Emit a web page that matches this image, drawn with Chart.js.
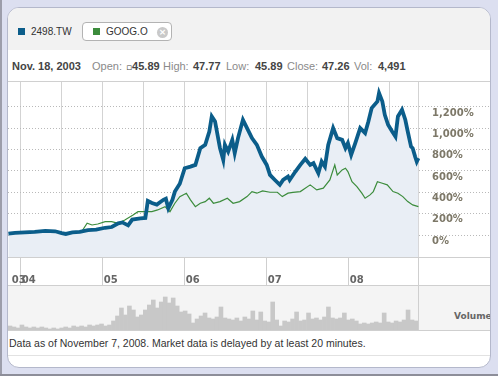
<!DOCTYPE html>
<html>
<head>
<meta charset="utf-8">
<script src="https://cdn.jsdelivr.net/npm/chart.js@4.4.1/dist/chart.umd.min.js"></script>
<style>
  html, body { margin: 0; padding: 0; }
  body { width: 498px; height: 376px; background: #dcdff0; position: relative; overflow: hidden;
         font-family: "Liberation Sans", Arial, sans-serif; }
  .abs { position: absolute; }
  #frameL { left: 0; top: 0; width: 2px; height: 376px; background: #9c9daa; }
  #frameB { left: 0; top: 374px; width: 498px; height: 2px; background: #8d8e99; }
  #panel { left: 7px; top: 7px; width: 482px; height: 359px; background: #fff;
           border: 1px solid #b4b8cb; border-radius: 12px; overflow: hidden; }
  #header { left: 0; top: 0; width: 482px; height: 42px; background: #f2f2f2; }
  .sq { width: 7px; height: 7px; }
  .leg { font-size: 10px; line-height: 12px; color: #333; white-space: nowrap; }
  #googBox { left: 74px; top: 14px; width: 90px; height: 19px; box-sizing: border-box;
             border: 1px solid #b3b3b3; border-radius: 4px; background: #fff; }
  #closeX { left: 149px; top: 19px; width: 11px; height: 11px; border-radius: 50%; background: #c9c9c9;
            color: #fff; font: bold 9px/11px "DejaVu Sans", sans-serif; text-align: center; }
  .info { top: 52px; font-size: 11px; line-height: 13px; white-space: nowrap; }
  .lbl { color: #8a8a8a; }
  .val { color: #444; font-weight: bold; }
  .cur { font-family: "DejaVu Sans", sans-serif; font-weight: normal; font-size: 9px; }
  #topLine { left: 0; top: 73px; width: 482px; height: 1px; background: #d0d0d0; }
  #priceWrap { left: 0; top: 74px; width: 482px; height: 203px; }
  #volBand { left: 0; top: 277px; width: 482px; height: 46px; box-sizing: border-box; background: #f4f4f4;
             border-top: 1px solid #cfcfcf; border-bottom: 1px solid #cfcfcf; }
  #volWrap { left: 0; top: 278px; width: 410px; height: 44px; }
  #volSep { left: 410px; top: 277px; width: 1px; height: 46px; background: #cfcfcf; }
  #volLabel { left: 446px; top: 302px; font: bold 9px/12px "DejaVu Sans", sans-serif; color: #666; }
  #footer { left: 1px; top: 329px; font-size: 10.5px; line-height: 13px; color: #333; white-space: nowrap; }
  #footLine { left: 0; top: 347px; width: 482px; height: 1px; background: #e2e2e2; }
</style>
</head>
<body>
<div id="frameL" class="abs"></div>
<div id="frameB" class="abs"></div>
<div id="panel" class="abs">
  <div id="header" class="abs"></div>
  <div class="abs sq" style="left:10px;top:20px;background:#0b5d8a"></div>
  <div class="abs leg" style="left:23px;top:18px">2498.TW</div>
  <div id="googBox" class="abs"></div>
  <div class="abs sq" style="left:85px;top:20px;background:#3c8c3c"></div>
  <div class="abs leg" style="left:98px;top:18px">GOOG.O</div>
  <div id="closeX" class="abs">×</div>

  <span class="abs info val" style="left:4px">Nov. 18, 2003</span>
  <span class="abs info lbl" style="left:84px">Open:</span>
  <span class="abs info val" style="left:118px"><span class="cur">▫</span>45.89</span>
  <span class="abs info lbl" style="left:155px">High:</span>
  <span class="abs info val" style="left:185px">47.77</span>
  <span class="abs info lbl" style="left:218px">Low:</span>
  <span class="abs info val" style="left:247px">45.89</span>
  <span class="abs info lbl" style="left:279px">Close:</span>
  <span class="abs info val" style="left:314px">47.26</span>
  <span class="abs info lbl" style="left:346px">Vol:</span>
  <span class="abs info val" style="left:370px">4,491</span>

  <div id="topLine" class="abs"></div>
  <div id="priceWrap" class="abs"><canvas id="priceChart" width="482" height="203"></canvas></div>
  <div id="volBand" class="abs"></div>
  <div id="volWrap" class="abs"><canvas id="volChart" width="410" height="44"></canvas></div>
  <div id="volSep" class="abs"></div>
  <div id="volLabel" class="abs">Volume</div>
  <div id="footer" class="abs">Data as of November 7, 2008. Market data is delayed by at least 20 minutes.</div>
  <div id="footLine" class="abs"></div>
</div>

<script>
// 2498.TW (HTC) cumulative change, %
var blueYears = [2003.85, 2003.93, 2004.05, 2004.17, 2004.30, 2004.42, 2004.50, 2004.55, 2004.63, 2004.72,
  2004.82, 2004.92, 2005.03, 2005.11, 2005.19, 2005.24, 2005.31, 2005.36, 2005.46, 2005.52,
  2005.55, 2005.60, 2005.66, 2005.74, 2005.77, 2005.80, 2005.85, 2005.88, 2005.94, 2006.00,
  2006.07, 2006.13, 2006.19, 2006.25, 2006.30, 2006.33, 2006.37, 2006.43, 2006.47, 2006.49,
  2006.53, 2006.58, 2006.61, 2006.65, 2006.71, 2006.76, 2006.82, 2006.88, 2006.94, 2007.00,
  2007.04, 2007.10, 2007.16, 2007.20, 2007.26, 2007.28, 2007.35, 2007.41, 2007.47, 2007.53,
  2007.57, 2007.63, 2007.67, 2007.71, 2007.75, 2007.81, 2007.86, 2007.92, 2007.96, 2007.99,
  2008.03, 2008.08, 2008.14, 2008.20, 2008.24, 2008.28, 2008.35, 2008.37, 2008.41, 2008.44,
  2008.48, 2008.53, 2008.57, 2008.60, 2008.65, 2008.69, 2008.72, 2008.76, 2008.78, 2008.81,
  2008.83, 2008.85];
var blueValues = [12, 20, 25, 30, 38, 35, 18, 10, 25, 30,
  45, 50, 68, 75, 110, 118, 90, 145, 155, 160,
  320, 300, 285, 330, 340, 250, 330, 407, 480, 626,
  641, 657, 814, 845, 970, 1111, 1064, 814, 704, 845,
  782, 892, 767, 908, 1080, 1002, 908, 845, 735, 657,
  563, 516, 470, 516, 548, 516, 595, 657, 714, 657,
  673, 579, 688, 641, 845, 1002, 908, 892, 814, 861,
  751, 861, 1002, 955, 1064, 1190, 1252, 1331, 1252, 1127,
  1033, 970, 923, 1111, 1174, 1080, 970, 829, 814, 735,
  688, 720];

// GOOG.O, starts at its Aug 2004 listing
var googYears = [2004.60, 2004.67, 2004.75, 2004.81, 2004.87, 2004.94, 2005.03, 2005.11, 2005.19, 2005.27,
  2005.37, 2005.43, 2005.52, 2005.60, 2005.67, 2005.76, 2005.82, 2005.88, 2005.94, 2006.02,
  2006.07, 2006.13, 2006.19, 2006.25, 2006.30, 2006.35, 2006.43, 2006.52, 2006.59, 2006.67,
  2006.76, 2006.82, 2006.88, 2006.95, 2007.04, 2007.13, 2007.19, 2007.26, 2007.32, 2007.41,
  2007.53, 2007.61, 2007.69, 2007.77, 2007.83, 2007.86, 2007.92, 2007.96, 2007.99, 2008.04,
  2008.10, 2008.16, 2008.20, 2008.26, 2008.30, 2008.35, 2008.41, 2008.47, 2008.54, 2008.60,
  2008.66, 2008.72, 2008.78, 2008.85];
var googValues = [20, 25, 40, 110, 94, 103, 125, 125, 110, 141,
  188, 219, 219, 219, 235, 266, 219, 298, 360, 392,
  329, 266, 298, 313, 345, 298, 313, 345, 298, 313,
  360, 407, 392, 413, 401, 401, 360, 392, 400, 407,
  470, 423, 439, 516, 657, 563, 610, 626, 595, 500,
  454, 392, 345, 376, 407, 500, 485, 470, 407, 392,
  360, 313, 282, 266];

// volume, relative units, roughly every 2.5 weeks
var volumeValues = [4, 3, 2, 5, 3, 2, 3, 2, 3, 2,
  1, 2, 1, 2, 3, 2, 4, 3, 4, 3,
  5, 4, 5, 6, 4, 5, 9, 14, 22, 15,
  24, 20, 13, 15, 20, 25, 30, 22, 28, 33,
  27, 32, 24, 18, 19, 16, 7, 11, 14, 17,
  12, 11, 13, 23, 12, 11, 10, 12, 9, 13,
  11, 19, 10, 18, 9, 8, 28, 10, 4, 9,
  8, 11, 18, 9, 10, 17, 11, 12, 10, 13,
  23, 12, 11, 12, 17, 10, 11, 9, 6, 7,
  6, 7, 8, 7, 17, 8, 7, 9, 8, 10,
  20, 10, 9];

var xTickYears = [2003.88, 2004, 2004.5, 2005, 2005.5, 2006, 2006.5, 2007, 2007.5, 2008, 2008.5, 2008.85];
var xTickLabels = ['03', '04', '', '05', '', '06', '', '07', '', '08', '', ''];
var yTickValues = [0, 200, 400, 600, 800, 1000, 1200];

var X_MIN = 2003.845, X_MAX = 2009.723;
var Y_MIN = -206, Y_MAX = 1434;

function toPoints(xs, ys) {
  return xs.map(function(x, i) { return { x: x, y: ys[i] }; });
}

var AXIS_FONT = { family: "'DejaVu Sans', sans-serif", size: 10, weight: 'bold' };

new Chart(document.getElementById('priceChart'), {
  type: 'line',
  data: {
    datasets: [
      {
        label: '2498.TW',
        data: toPoints(blueYears, blueValues),
        borderColor: '#0b5d8a',
        borderWidth: 3.8,
        backgroundColor: '#e9eef5',
        fill: 'start',
        pointRadius: 0,
        tension: 0
      },
      {
        label: 'GOOG.O',
        data: toPoints(googYears, googValues),
        borderColor: '#3c8c3c',
        borderWidth: 1.2,
        fill: false,
        pointRadius: 0,
        tension: 0
      }
    ]
  },
  options: {
    responsive: false,
    animation: false,
    layout: { padding: 0 },
    plugins: {
      legend: { display: false },
      tooltip: { enabled: false },
      filler: { drawTime: 'beforeDatasetsDraw' }
    },
    scales: {
      x: {
        type: 'linear',
        min: X_MIN,
        max: X_MAX,
        afterBuildTicks: function(s) { s.ticks = xTickYears.map(function(v) { return { value: v }; }); },
        afterFit: function(s) { s.height = 28; s.paddingLeft = 0; s.paddingRight = 0; },
        ticks: {
          autoSkip: false,
          maxRotation: 0,
          align: 'start',
          padding: -11,
          labelOffset: 1,
          color: '#666',
          font: AXIS_FONT,
          callback: function(v, i) { return xTickLabels[i]; }
        },
        grid: {
          drawTicks: true,
          tickLength: 28,
          lineWidth: 1,
          color: function(ctx) { return ctx.index === 0 ? 'rgba(0,0,0,0)' : '#d3d3d3'; },
          tickColor: function(ctx) {
            return (ctx.index === 0 || xTickLabels[ctx.index] === '' && ctx.index !== xTickYears.length - 1)
              ? 'rgba(0,0,0,0)' : '#cfcfcf';
          }
        },
        border: { display: true, color: '#cfcfcf' }
      },
      y: {
        type: 'linear',
        position: 'left',
        min: Y_MIN,
        max: Y_MAX,
        afterBuildTicks: function(s) { s.ticks = yTickValues.map(function(v) { return { value: v }; }); },
        afterFit: function(s) { s.width = 0; s.paddingTop = 0; s.paddingBottom = 0; },
        ticks: {
          mirror: true,
          padding: 424,
          labelOffset: 6,
          color: '#7d7868',
          font: AXIS_FONT,
          callback: function(v) { return v.toLocaleString('en-US') + '%'; }
        },
        grid: { drawTicks: false, color: '#b9b9b9', lineWidth: 1 },
        border: { display: false, dash: [1, 2] }
      }
    }
  }
});

new Chart(document.getElementById('volChart'), {
  type: 'bar',
  data: {
    labels: volumeValues.map(function(v, i) { return i; }),
    datasets: [{
      data: volumeValues,
      backgroundColor: '#c8c8c8',
      borderWidth: 0,
      barPercentage: 1,
      categoryPercentage: 1
    }]
  },
  options: {
    responsive: false,
    animation: false,
    layout: { padding: 0 },
    plugins: { legend: { display: false }, tooltip: { enabled: false } },
    scales: {
      x: { display: false },
      y: { display: false, min: 0, max: 44 }
    }
  }
});
</script>
</body>
</html>
